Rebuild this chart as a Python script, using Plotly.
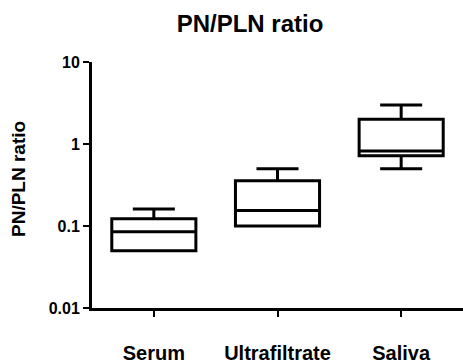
import plotly.graph_objects as go

categories = ["Serum", "Ultrafiltrate", "Saliva"]
q1_vals = [0.05, 0.10, 0.72]
median_vals = [0.085, 0.154, 0.82]
q3_vals = [0.123, 0.357, 2.0]
lower_vals = [0.05, 0.10, 0.50]
upper_vals = [0.161, 0.50, 3.0]
y_tickvals = [0.01, 0.1, 1, 10]
y_ticktext = ["0.01", "0.1", "1", "10"]

FONT = "Liberation Sans, Arial, sans-serif"

fig = go.Figure()
fig.add_trace(go.Box(
    x=categories,
    q1=q1_vals,
    median=median_vals,
    q3=q3_vals,
    lowerfence=lower_vals,
    upperfence=upper_vals,
    fillcolor="white",
    line=dict(color="black", width=3),
    whiskerwidth=0.5,
    width=0.68,
    boxpoints=False,
    showlegend=False,
    hoverinfo="skip",
))

fig.update_layout(
    width=463, height=364,
    margin=dict(l=92, r=0, t=62, b=56),
    paper_bgcolor="white", plot_bgcolor="white",
    font=dict(family=FONT, color="black"),
    title=dict(text="<b>PN/PLN ratio</b>", font=dict(size=24, family=FONT, color="black"),
               x=0.54, xref="container", xanchor="center",
               y=1 - 24 / 364, yref="container", yanchor="middle"),
    xaxis=dict(
        type="category", range=[-0.5, 2.5], automargin=False,
        showline=True, linecolor="black", linewidth=3,
        ticks="outside", ticklen=6, tickwidth=2, tickcolor="black",
        showgrid=False, zeroline=False,
        tickfont=dict(size=20, family=FONT, color="black", weight="bold"),
        ticklabelstandoff=19,
    ),
    yaxis=dict(
        type="log", range=[-2, 1], automargin=False,
        tickvals=y_tickvals, ticktext=y_ticktext,
        showline=True, linecolor="black", linewidth=3,
        ticks="outside", ticklen=6, tickwidth=2, tickcolor="black",
        showgrid=False, zeroline=False,
        tickfont=dict(size=16, family=FONT, color="black", weight="bold"),
    ),
    annotations=[dict(
        text="<b>PN/PLN ratio</b>", textangle=-90,
        xref="paper", yref="paper",
        x=(18 - 92) / 371, y=(308 - 179) / 246,
        xanchor="center", yanchor="middle", showarrow=False,
        font=dict(size=19, family=FONT, color="black"),
    )],
)

fig.write_html("out.html")
